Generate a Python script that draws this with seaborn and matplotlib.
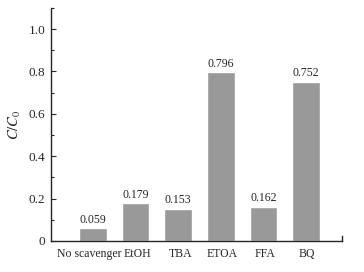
import matplotlib
matplotlib.use("Agg")
import matplotlib.pyplot as plt
import matplotlib.transforms as mtransforms
import seaborn as sns
import pandas as pd
from matplotlib.ticker import MultipleLocator

categories = ["No scavenger", "EtOH", "TBA", "ETOA", "FFA", "BQ"]
values = [0.059, 0.179, 0.153, 0.796, 0.162, 0.752]
yticks = [0, 0.2, 0.4, 0.6, 0.8, 1.0]
ytick_labels = ["0", "0.2", "0.4", "0.6", "0.8", "1.0"]

sns.set_style("ticks")
plt.rcParams['font.family'] = ['Liberation Serif', 'DejaVu Serif']
plt.rcParams['mathtext.fontset'] = 'stix'

df = pd.DataFrame({"cat": categories, "val": values})

fig = plt.figure(figsize=(3.64, 2.72), dpi=100)
ax = fig.add_axes([0.140, 0.114, 0.80, 0.857])
sns.barplot(data=df, x="cat", y="val", color="#999999", saturation=1,
            width=0.65, ax=ax)

for i, v in enumerate(values):
    ax.text(i, v + 0.012, f"{v:.3f}", ha="center", va="bottom", fontsize=8.5)

ax.set_xlim(-0.98, 5.84)
ax.set_ylim(0, 1.1)
ax.set_yticks(yticks)
ax.set_yticklabels(ytick_labels)
ax.yaxis.set_minor_locator(MultipleLocator(0.1))
ax.tick_params(axis="y", which="major", direction="in", length=3.5, width=0.8, labelsize=9.5, pad=4)
ax.tick_params(axis="y", which="minor", direction="in", length=2, width=0.8)
ax.tick_params(axis="x", length=0, labelsize=8.5, pad=5)
ax.set_xlabel("")
ax.set_ylabel("$C/C_0$", fontsize=10.5, labelpad=4)

# nudge x tick labels like the reference
shifts = [-4, 2, 2, 1, 1, 1]
for lab, dx in zip(ax.get_xticklabels(), shifts):
    lab.set_transform(lab.get_transform() + mtransforms.ScaledTranslation(dx / 100, 0, fig.dpi_scale_trans))

for s in ["left", "bottom"]:
    ax.spines[s].set_linewidth(1.0)
ax.spines["top"].set_visible(False)
ax.spines["right"].set_bounds(0, 0.025)
ax.spines["right"].set_linewidth(1.0)

fig.savefig("out.png", dpi=100)
